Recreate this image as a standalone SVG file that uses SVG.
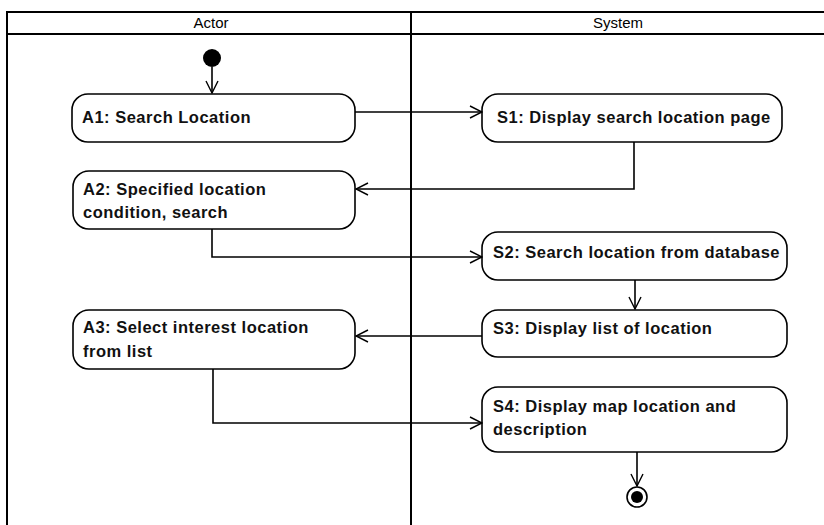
<svg xmlns="http://www.w3.org/2000/svg" width="824" height="525" viewBox="0 0 824 525">
<defs>
<style>
.lane{fill:none;stroke:#000;stroke-width:2}
.node rect{fill:#fff;stroke:#000;stroke-width:1.6}
.node text{font-family:"Liberation Sans",Arial,sans-serif;font-weight:bold;font-size:16.5px;letter-spacing:0.5px;fill:#111}
.hdr{font-family:"Liberation Sans",Arial,sans-serif;font-size:15px;fill:#000;text-anchor:middle}
.edge{fill:none;stroke:#000;stroke-width:1.6;marker-end:url(#open)}
</style>
<marker id="open" viewBox="0 0 14 14" refX="13" refY="7" markerWidth="14" markerHeight="14" markerUnits="userSpaceOnUse" orient="auto">
<path d="M1,1 L13,7 L1,13" fill="none" stroke="#000" stroke-width="1.4"/>
</marker>
</defs>
<rect width="824" height="525" fill="#fff"/>
<g id="swimlanes">
<path class="lane" d="M7,525 V12 H824 M7,34 H824 M411,12 V525"/>
<text class="hdr" x="211" y="28">Actor</text>
<text class="hdr" x="618" y="28">System</text>
</g>
<g id="start"><circle cx="212" cy="58" r="9" fill="#000"/></g>
<g id="A1" class="node"><rect x="72" y="94" width="283" height="48" rx="16"/><text x="82" y="123">A1: Search Location</text></g>
<g id="A2" class="node"><rect x="73" y="171" width="282" height="58" rx="16"/><text x="83" y="195">A2: Specified location</text><text x="83" y="218">condition, search</text></g>
<g id="A3" class="node"><rect x="73" y="310" width="282" height="59" rx="16"/><text x="83" y="333">A3: Select interest location</text><text x="83" y="357">from list</text></g>
<g id="S1" class="node"><rect x="482" y="94" width="300" height="48" rx="16"/><text x="497" y="123">S1: Display search location page</text></g>
<g id="S2" class="node"><rect x="482" y="232" width="305" height="48" rx="16"/><text x="493" y="258">S2: Search location from database</text></g>
<g id="S3" class="node"><rect x="482" y="310" width="305" height="47" rx="16"/><text x="493" y="334">S3: Display list of location</text></g>
<g id="S4" class="node"><rect x="482" y="387" width="305" height="65" rx="16"/><text x="493" y="412">S4: Display map location and</text><text x="493" y="435">description</text></g>
<g id="end"><circle cx="637" cy="497" r="10" fill="#fff" stroke="#000" stroke-width="1.6"/><circle cx="637" cy="497" r="6" fill="#000"/></g>
<g id="connectors">
<path class="edge" d="M212,67 V93"/>
<path class="edge" d="M355,112 H482"/>
<path class="edge" d="M634,142 V189 H356"/>
<path class="edge" d="M212,229 V257 H482"/>
<path class="edge" d="M635,280 V309"/>
<path class="edge" d="M482,336 H356"/>
<path class="edge" d="M213,369 V423 H482"/>
<path class="edge" d="M637,452 V486"/>
</g>
</svg>
